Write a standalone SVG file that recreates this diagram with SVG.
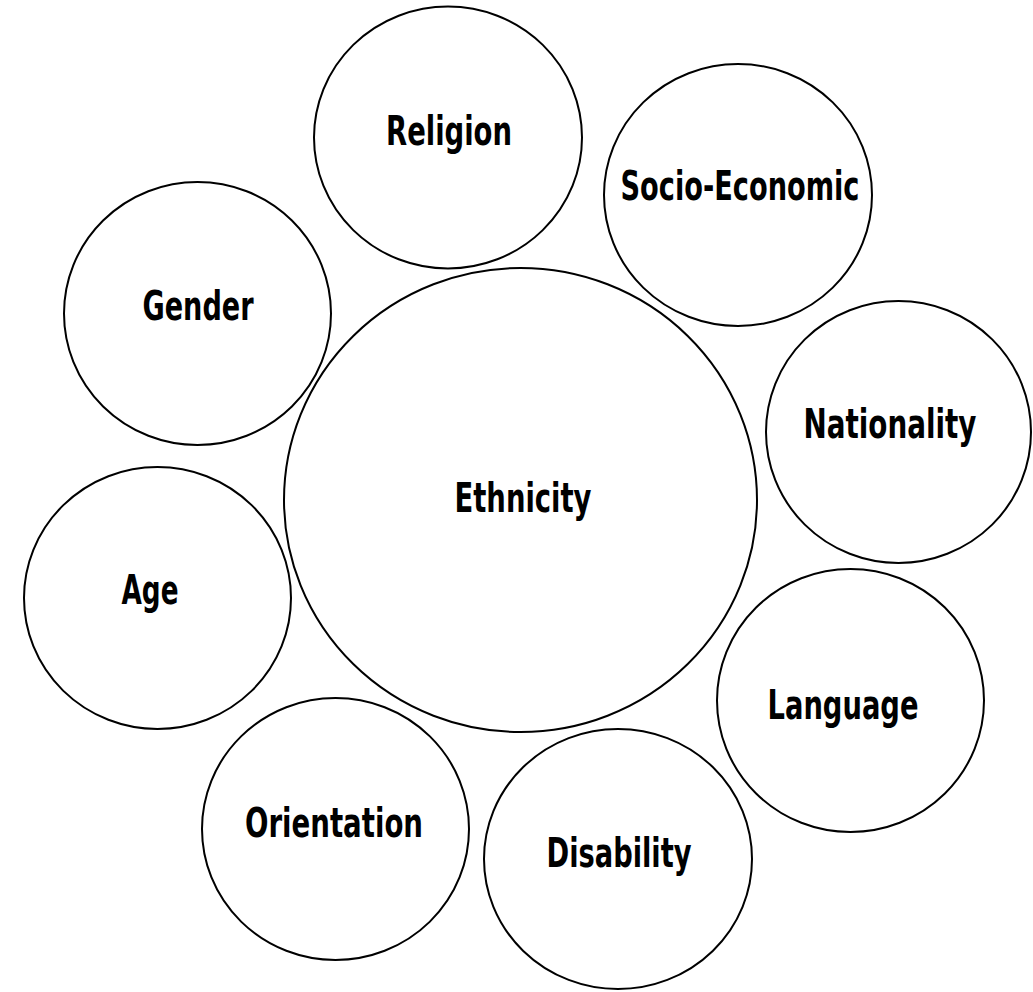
<svg xmlns="http://www.w3.org/2000/svg" width="1033" height="992" viewBox="0 0 1033 992">
<style>
.c{fill:none;stroke:#000;stroke-width:2}
.t{font-family:"Liberation Sans Narrow","DejaVu Sans Condensed","Liberation Sans",sans-serif;font-weight:bold;font-size:40px;fill:#000;text-anchor:middle}
</style>
<rect width="1033" height="992" fill="#fff"/>
<g id="religion"><ellipse class="c" cx="448" cy="137.5" rx="134" ry="131"/><text class="t" x="449" y="145" textLength="126" lengthAdjust="spacingAndGlyphs">Religion</text></g>
<g id="socio-economic"><ellipse class="c" cx="738" cy="195" rx="134" ry="131"/><text class="t" x="740" y="200" textLength="239" lengthAdjust="spacingAndGlyphs">Socio-Economic</text></g>
<g id="gender"><ellipse class="c" cx="197.5" cy="313.5" rx="133.5" ry="131.5"/><text class="t" x="198" y="320" textLength="111" lengthAdjust="spacingAndGlyphs">Gender</text></g>
<g id="ethnicity"><ellipse class="c" cx="520.5" cy="500" rx="236.5" ry="232"/><text class="t" x="523" y="512" textLength="137" lengthAdjust="spacingAndGlyphs">Ethnicity</text></g>
<g id="nationality"><ellipse class="c" cx="898.5" cy="432" rx="132.5" ry="131"/><text class="t" x="890" y="438" textLength="173" lengthAdjust="spacingAndGlyphs">Nationality</text></g>
<g id="age"><ellipse class="c" cx="157.5" cy="598" rx="133.5" ry="131"/><text class="t" x="150" y="604" textLength="57" lengthAdjust="spacingAndGlyphs">Age</text></g>
<g id="language"><ellipse class="c" cx="850.5" cy="700.5" rx="133.5" ry="131.5"/><text class="t" x="843" y="719" textLength="151" lengthAdjust="spacingAndGlyphs">Language</text></g>
<g id="orientation"><ellipse class="c" cx="335.5" cy="829" rx="133.5" ry="131"/><text class="t" x="334" y="837" textLength="178" lengthAdjust="spacingAndGlyphs">Orientation</text></g>
<g id="disability"><ellipse class="c" cx="618" cy="859" rx="134" ry="130"/><text class="t" x="619" y="867" textLength="145" lengthAdjust="spacingAndGlyphs">Disability</text></g>
<g id="connectors"/>
</svg>
